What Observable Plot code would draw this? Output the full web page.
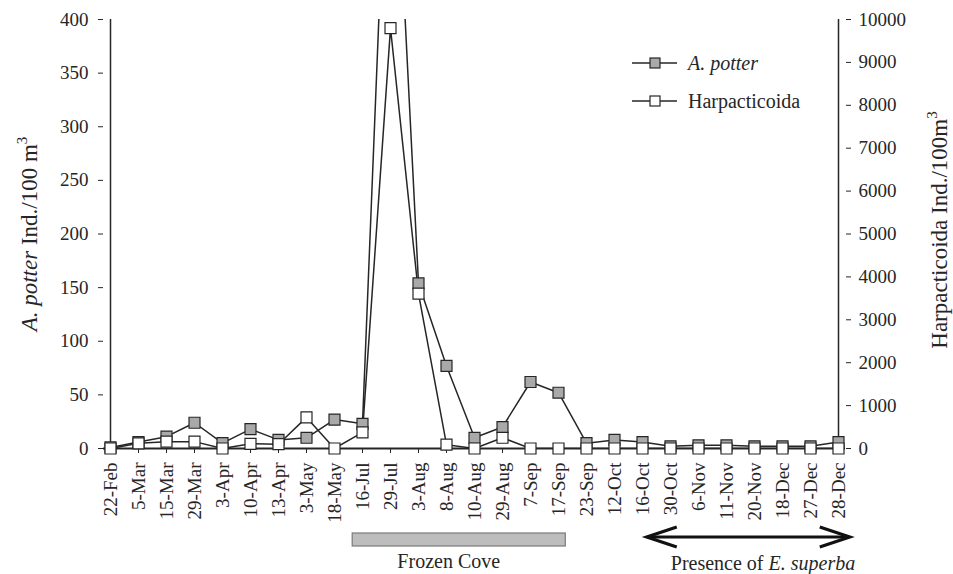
<!DOCTYPE html>
<html><head><meta charset="utf-8">
<script src="https://cdn.jsdelivr.net/npm/d3@7"></script>
<script src="https://cdn.jsdelivr.net/npm/@observablehq/plot@0.6"></script>
<style>body{margin:0;background:#fff} svg{display:block}</style>
</head><body><div id="chart"></div>
<script>
const dates = ["22-Feb","5-Mar","15-Mar","29-Mar","3-Apr","10-Apr","13-Apr","3-May","18-May","16-Jul","29-Jul","3-Aug","8-Aug","10-Aug","29-Aug","7-Sep","17-Sep","23-Sep","12-Oct","16-Oct","30-Oct","6-Nov","11-Nov","20-Nov","18-Dec","27-Dec","28-Dec"];
const aPotter = [1,6,11,24,5,18,8,10,27,23,670,154,77,10,20,62,52,5,8,6,2,3,3,2,2,2,6];
const harpacticoida = [0,120,160,160,0,110,100,725,0,375,9800,3610,90,0,250,0,0,0,0,0,0,0,0,0,0,0,0];
const leftTicks = [0,50,100,150,200,250,300,350,400];
const rightTicks = [0,1000,2000,3000,4000,5000,6000,7000,8000,9000,10000];
const ratio = 25; // right axis max 10000 / left axis max 400
const frozenCove = {label:"Frozen Cove", from:"16-Jul", to:"17-Sep"};
const krillPresence = {from:"16-Oct", to:"28-Dec"};

const FONT = "'Liberation Serif','Times New Roman',serif";
const INK = "#262626";
const GRAY = "#a9a9a9";

const rows = dates.map((d,i)=>({date:d, ap:aPotter[i], hp:harpacticoida[i]/ratio}));

const chart = Plot.plot({
  width:953, height:574,
  marginLeft:103, marginRight:108, marginTop:19, marginBottom:126,
  style:{fontFamily:FONT, fontSize:"19px", color:INK, background:"white", overflow:"visible"},
  x:{type:"point", domain:dates, padding:0},
  y:{domain:[0,400]},
  marks:[
    Plot.axisY(leftTicks, {anchor:"left", tickSize:5, tickPadding:10, label:null, fontSize:19, fontFamily:FONT}),
    Plot.axisY(rightTicks.map(v=>v/ratio), {anchor:"right", tickSize:5, tickPadding:8, tickFormat:d=>String(Math.round(d*ratio)), label:null, fontSize:19, fontFamily:FONT}),
    Plot.axisX({anchor:"bottom", tickRotate:-90, tickSize:5, tickPadding:9, label:null, fontSize:19, fontFamily:FONT}),
    Plot.ruleX([dates[0], dates[dates.length-1]], {y1:0, y2:400, stroke:INK, strokeWidth:1.5}),
    Plot.ruleY([0], {stroke:INK, strokeWidth:2.2}),
    Plot.line(rows, {x:"date", y:"ap", stroke:INK, strokeWidth:1.5, clip:true}),
    Plot.line(rows, {x:"date", y:"hp", stroke:INK, strokeWidth:1.5, clip:true}),
    Plot.dot(rows.filter(r=>r.ap<=400), {x:"date", y:"ap", symbol:"square", r:6.2, fill:GRAY, stroke:INK, strokeWidth:1.2}),
    Plot.dot(rows.filter(r=>r.hp<=400), {x:"date", y:"hp", symbol:"square", r:6.2, fill:"white", stroke:INK, strokeWidth:1.2})
  ]
});
document.getElementById("chart").append(chart);

const svg = d3.select(chart);
const xs = chart.scale("x");
const step = xs.apply(dates[1]) - xs.apply(dates[0]);

// axis titles
const lt = svg.append("text").attr("transform","translate(37,234) rotate(-90)")
  .attr("text-anchor","middle").attr("font-family",FONT).attr("font-size",23).attr("fill",INK);
lt.append("tspan").attr("font-style","italic").text("A. potter");
lt.append("tspan").text(" Ind./100 m");
lt.append("tspan").attr("font-size",15).attr("dy",-10).text("3");

const rt = svg.append("text").attr("transform","translate(947,230) rotate(-90)")
  .attr("text-anchor","middle").attr("font-family",FONT).attr("font-size",23).attr("fill",INK);
rt.append("tspan").text("Harpacticoida Ind./100m");
rt.append("tspan").attr("font-size",15).attr("dy",-10).text("3");

// legend
const legendItems = [{label:"A. potter", italic:true, fill:GRAY},{label:"Harpacticoida", italic:false, fill:"white"}];
legendItems.forEach((it,i)=>{
  const y = 63 + i*38;
  const g = svg.append("g");
  g.append("line").attr("x1",632).attr("x2",677).attr("y1",y).attr("y2",y).attr("stroke",INK).attr("stroke-width",1.5);
  g.append("rect").attr("x",650).attr("y",y-5).attr("width",10).attr("height",10).attr("fill",it.fill).attr("stroke",INK).attr("stroke-width",1.2);
  g.append("text").attr("x",688).attr("y",y+7).attr("text-anchor","start").attr("font-family",FONT).attr("font-size",20).attr("fill",INK)
    .attr("font-style",it.italic?"italic":"normal").text(it.label);
});

// Frozen Cove bar
const fx1 = xs.apply(frozenCove.from) - 0.35*step, fx2 = xs.apply(frozenCove.to) + 0.26*step;
svg.append("rect").attr("x",fx1).attr("y",533).attr("width",fx2-fx1).attr("height",13)
  .attr("fill","#bdbdbd").attr("stroke","#7a7a7a").attr("stroke-width",1.2);
svg.append("text").attr("x",(fx1+fx2)/2 - 10).attr("y",568).attr("text-anchor","middle")
  .attr("font-family",FONT).attr("font-size",20).attr("fill",INK).text(frozenCove.label);

// Presence arrow
const ax1 = xs.apply(krillPresence.from) + 0.17*step, ax2 = xs.apply(krillPresence.to) + 0.42*step;
const ay = 537;
svg.append("line").attr("x1",ax1+2).attr("x2",ax2-2).attr("y1",ay).attr("y2",ay).attr("stroke","#111").attr("stroke-width",3.2);
svg.append("path").attr("d",`M${ax1+30},${ay-10} L${ax1},${ay} L${ax1+30},${ay+10}`).attr("fill","none").attr("stroke","#111").attr("stroke-width",3.2);
svg.append("path").attr("d",`M${ax2-30},${ay-10} L${ax2},${ay} L${ax2-30},${ay+10}`).attr("fill","none").attr("stroke","#111").attr("stroke-width",3.2);
const pt = svg.append("text").attr("x",763).attr("y",570).attr("text-anchor","middle")
  .attr("font-family",FONT).attr("font-size",20).attr("fill",INK);
pt.append("tspan").text("Presence of ");
pt.append("tspan").attr("font-style","italic").text("E. superba");
</script>
</body></html>
